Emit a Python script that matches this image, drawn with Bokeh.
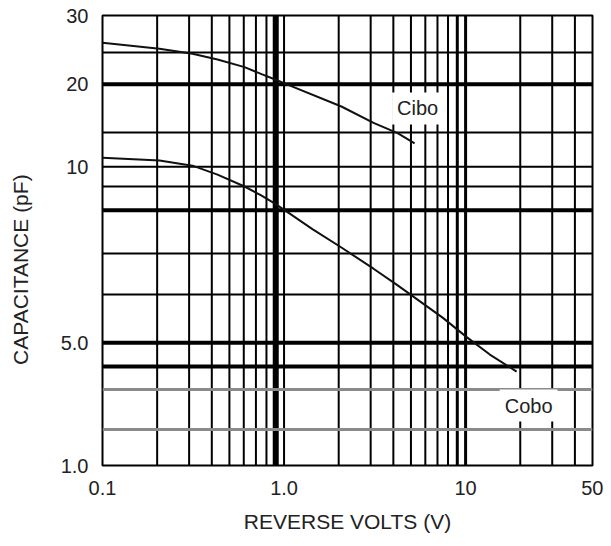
import numpy as np
from bokeh.plotting import figure
from bokeh.models import Range1d, FixedTicker, Span, Label
from bokeh.embed import file_html
from bokeh.resources import INLINE

# ---- data (reverse volts V, capacitance pF) ----
cibo_volts = [0.1, 0.206, 0.313, 0.43, 0.606, 0.752, 0.886, 1.07, 2.07, 3.11, 4.22, 5.24]
cibo_pf = [26.3, 25.5, 24.8, 23.9, 22.7, 21.6, 20.8, 19.9, 17.7, 16.0, 14.9, 13.4]

cobo_volts = [0.1, 0.206, 0.313, 0.43, 0.606, 0.752, 0.886, 1.07, 1.44, 2.07, 3.11, 4.17, 7.47, 10.1, 13.6, 19.1]
cobo_pf = [11.3, 10.9, 10.15, 9.6, 9.0, 8.62, 8.29, 7.93, 7.56, 7.14, 6.63, 6.24, 5.52, 5.12, 4.5, 3.78]

series_names = ["Cibo", "Cobo"]

x_tick_values = [0.1, 1, 10, 50]
x_tick_labels = ["0.1", "1.0", "10", "50"]
y_tick_values = [1, 5, 10, 20, 30]
y_tick_labels = ["1.0", "5.0", "10", "20", "30"]

x_grid_values = [0.2, 0.3, 0.4, 0.5, 0.6, 0.7, 0.8, 0.9, 1, 2, 3, 4, 5, 6, 7, 8, 9, 10, 20, 30, 40]
y_grid_values = [2, 3, 4, 5, 6, 7, 8, 9, 10, 15, 20, 25]

# ---- the printed (non-uniform) capacitance scale of the original graph paper ----
SCALE_PF = [1, 2, 3, 4, 5, 6, 7, 8, 9, 10, 15, 20, 25, 30]
SCALE_POS = [0.0, 0.080, 0.169, 0.220, 0.273, 0.380, 0.471, 0.567, 0.620, 0.664, 0.740, 0.847, 0.918, 1.0]


def yscale(v):
    return np.interp(np.asarray(v, dtype=float), SCALE_PF, SCALE_POS)


FONT = "Liberation Sans"
TXT = "#222222"

p = figure(width=603, height=538, x_axis_type="log",
           x_range=Range1d(0.1, 50), y_range=Range1d(0.0, 1.0),
           output_backend="svg", toolbar_location=None,
           min_border_left=102, min_border_right=11, min_border_top=15, min_border_bottom=73)
p.background_fill_color = "white"
p.border_fill_color = "white"
p.outline_line_color = "black"
p.outline_line_width = 2
p.xgrid.visible = False
p.ygrid.visible = False

# vertical grid
x_thick = {0.9: 6, 9: 3, 10: 3}
for v in x_grid_values:
    p.add_layout(Span(location=v, dimension="height", line_color="black",
                      line_width=x_thick.get(v, 2), level="underlay"))

# horizontal grid
y_thick = {4: 4, 5: 4, 8: 4, 20: 4}
y_gray = {2, 3}
for v in y_grid_values:
    col = "#8a8a8a" if v in y_gray else "black"
    w = 3 if v in y_gray else y_thick.get(v, 2)
    p.add_layout(Span(location=float(yscale(v)), dimension="width", line_color=col,
                      line_width=w, level="underlay"))

# curves
p.line(cibo_volts, yscale(cibo_pf), line_color="#111111", line_width=2)
p.line(cobo_volts, yscale(cobo_pf), line_color="#111111", line_width=2)

# curve labels
p.add_layout(Label(x=cibo_volts[-1], y=float(yscale(cibo_pf[-1])), text=series_names[0],
                   x_offset=3, y_offset=35, text_align="center", text_baseline="middle",
                   text_font=FONT, text_font_size="20px", text_color=TXT,
                   background_fill_color="white", padding=5))
p.add_layout(Label(x=cobo_volts[-1], y=float(yscale(cobo_pf[-1])), text=series_names[1],
                   x_offset=12, y_offset=-34, text_align="center", text_baseline="middle",
                   text_font=FONT, text_font_size="20px", text_color=TXT,
                   background_fill_color="white", padding=5))

# axes
xa = p.xaxis[0]
xa.ticker = FixedTicker(ticks=x_tick_values)
xa.major_label_overrides = {float(v): s for v, s in zip(x_tick_values, x_tick_labels)}
xa.axis_label = "REVERSE VOLTS (V)"
xa.major_label_standoff = 15
xa.axis_label_standoff = 12

ya = p.yaxis[0]
y_pos = [float(v) for v in yscale(y_tick_values)]
ya.ticker = FixedTicker(ticks=y_pos)
ya.major_label_overrides = {v: s for v, s in zip(y_pos, y_tick_labels)}
# trailing no-break spaces move the printed title a little below the frame centre
ya.axis_label = "CAPACITANCE (pF)" + "\u00a0" * 10
ya.major_label_standoff = 14
ya.axis_label_standoff = 26

for ax in (xa, ya):
    ax.axis_line_color = None
    ax.major_tick_line_color = None
    ax.minor_tick_line_color = None
    ax.major_tick_out = 0
    ax.major_tick_in = 0
    ax.major_label_text_font = FONT
    ax.major_label_text_font_size = "20px"
    ax.major_label_text_color = TXT
    ax.axis_label_text_font = FONT
    ax.axis_label_text_font_size = "21px"
    ax.axis_label_text_font_style = "normal"
    ax.axis_label_text_color = TXT

open("out.html", "w").write(file_html(p, INLINE))
